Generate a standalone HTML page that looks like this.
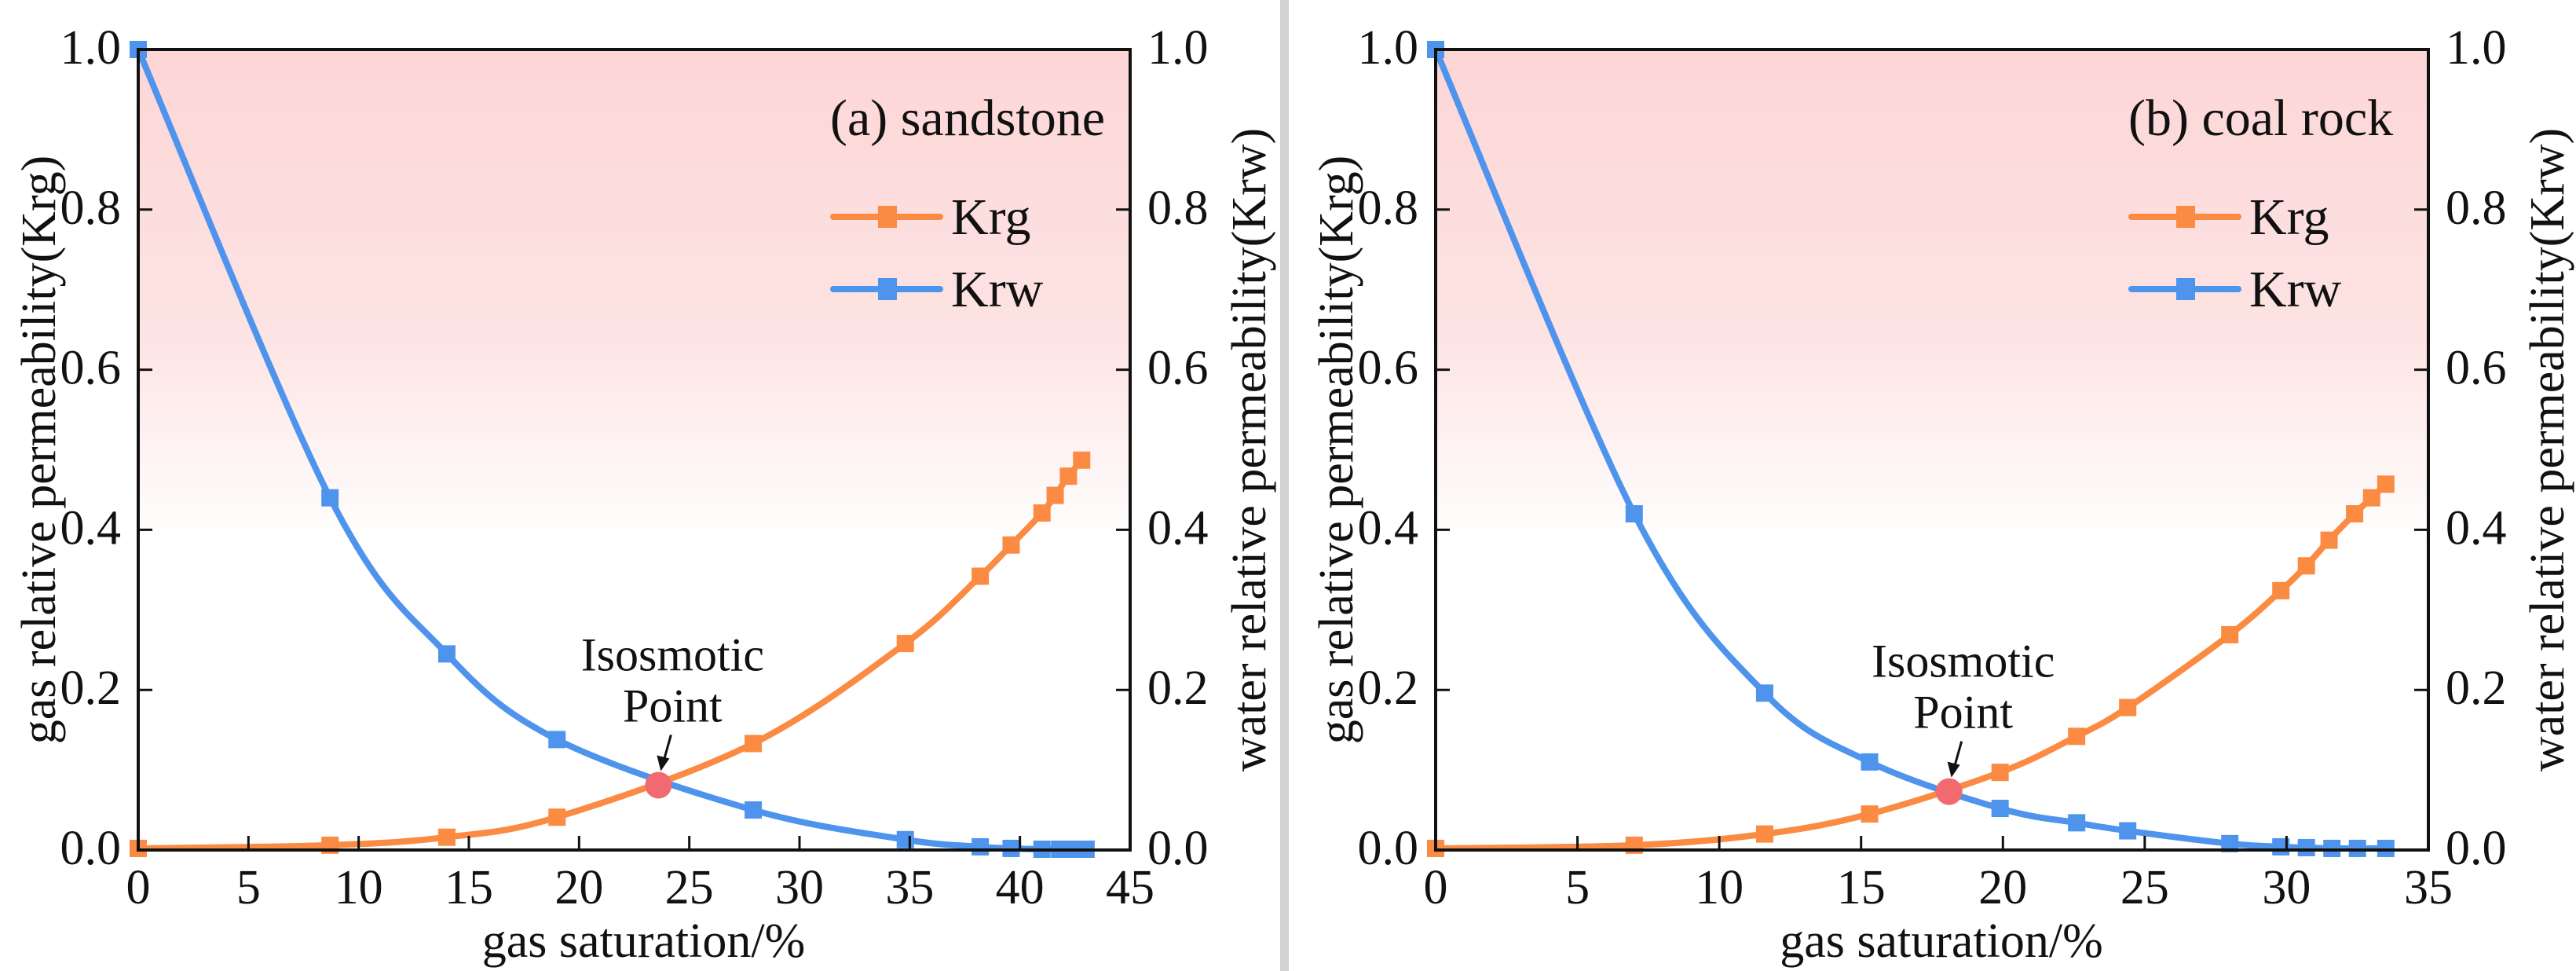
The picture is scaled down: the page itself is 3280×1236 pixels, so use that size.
<!DOCTYPE html>
<html><head><meta charset="utf-8"><style>
html,body{margin:0;padding:0;background:#fff;}
svg{display:block;}
text{font-family:"Liberation Serif","Times New Roman",Times,"DejaVu Serif","Noto Serif CJK SC",serif !important;}
</style></head><body>
<svg id="fig" width="3280" height="1236" viewBox="0 0 3280 1236" xmlns="http://www.w3.org/2000/svg">
<defs>
<linearGradient id="bg" x1="0" y1="0" x2="0" y2="1">
<stop offset="0" stop-color="#fdd6d6"/>
<stop offset="0.35" stop-color="#fde3e3"/>
<stop offset="0.62" stop-color="#ffffff"/>
<stop offset="1" stop-color="#ffffff"/>
</linearGradient>
</defs>
<rect x="1630" y="0" width="11" height="1236" fill="#d2d2d2"/>
</svg>
<script>
// Panel (a) sandstone
const sandX = [0, 8.7, 14, 19, 27.9, 34.8, 38.2, 39.6, 41, 41.6, 42.2, 42.8];
const sandKrg = [0.002, 0.006, 0.016, 0.041, 0.133, 0.258, 0.342, 0.381, 0.421, 0.443, 0.467, 0.487];
const sandKrwX = [0, 8.7, 14, 19, 27.9, 34.8, 38.2, 39.6, 41, 41.8, 42.3, 43];
const sandKrw = [1.0, 0.44, 0.245, 0.138, 0.05, 0.013, 0.004, 0.002, 0.001, 0.001, 0.001, 0.001];
const sandIso = [23.6, 0.081];
const sandXTicks = [0, 5, 10, 15, 20, 25, 30, 35, 40, 45];
// Panel (b) coal rock
const coalX = [0, 7, 11.6, 15.3, 19.9, 22.6, 24.4, 28, 29.8, 30.7, 31.5, 32.4, 33, 33.5];
const coalKrg = [0.002, 0.006, 0.02, 0.045, 0.097, 0.142, 0.178, 0.269, 0.324, 0.355, 0.387, 0.42, 0.44, 0.457];
const coalKrwX = [0, 7, 11.6, 15.3, 19.9, 22.6, 24.4, 28, 29.8, 30.7, 31.6, 32.5, 33.5];
const coalKrw = [1.0, 0.42, 0.196, 0.11, 0.052, 0.034, 0.024, 0.008, 0.004, 0.003, 0.002, 0.002, 0.002];
const coalIso = [18.1, 0.073];
const coalXTicks = [0, 5, 10, 15, 20, 25, 30, 35];
const yTicks = [0.0, 0.2, 0.4, 0.6, 0.8, 1.0];

const NS = "http://www.w3.org/2000/svg";
const svg = document.getElementById('fig');
const ORANGE = "#fb8b42", BLUE = "#4f94ec";
function mk(tag, attrs, parent) {
  const e = document.createElementNS(NS, tag);
  for (const k in attrs) e.setAttribute(k, attrs[k]);
  if (tag === 'text') e.setAttribute('font-family', 'Liberation Serif, Times New Roman, serif');
  (parent || svg).appendChild(e);
  return e;
}
function smoothPath(pts) {
  let d = "M" + pts[0][0] + "," + pts[0][1];
  for (let i = 0; i < pts.length - 1; i++) {
    const p0 = pts[Math.max(0, i - 1)], p1 = pts[i], p2 = pts[i + 1], p3 = pts[Math.min(pts.length - 1, i + 2)];
    const c1x = p1[0] + (p2[0] - p0[0]) / 6, c1y = p1[1] + (p2[1] - p0[1]) / 6;
    const c2x = p2[0] - (p3[0] - p1[0]) / 6, c2y = p2[1] - (p3[1] - p1[1]) / 6;
    d += " C" + c1x + "," + c1y + " " + c2x + "," + c2y + " " + p2[0] + "," + p2[1];
  }
  return d;
}
function panel(cfg) {
  const L = cfg.left, R = cfg.right, T = 63, B = 1082;
  const xs = v => L + (v / cfg.xmax) * (R - L);
  const ys = v => B - v * (B - T);
  const g = mk('g', {});
  
  
  const bg = mk('rect', {x: L, y: T, width: R - L, height: B - T, fill: 'url(#bg)'}, g);
  
  
  const series = [
    {xv: cfg.krwX, yv: cfg.krw, color: BLUE, name: 'krw'},
    {xv: cfg.krgX, yv: cfg.krg, color: ORANGE, name: 'krg'}
  ];
  for (const s of series) {
    const pts = s.xv.map((x, i) => [xs(x), ys(s.yv[i])]);
    const p = mk('path', {d: smoothPath(pts), fill: 'none', stroke: s.color, 'stroke-width': 8, 'stroke-linejoin': 'round'}, g);
    
    
    for (let i = 0; i < pts.length; i++) {
      const m = mk('rect', {x: pts[i][0] - 11, y: pts[i][1] - 11, width: 22, height: 22, fill: s.color}, g);
      
      
    }
  }
  const fr = mk('rect', {x: L, y: T, width: R - L, height: B - T, fill: 'none', stroke: '#111', 'stroke-width': 4}, g);
  
  
  for (const t of cfg.xticks) {
    const x = xs(t);
    const tk = mk('line', {x1: x, y1: B, x2: x, y2: B - 18, stroke: '#111', 'stroke-width': 3}, g);
    
    
    const tl = mk('text', {x: x, y: 1150, 'font-size': 62, 'text-anchor': 'middle', fill: '#111'}, g);
    tl.textContent = String(t);
    
    
  }
  for (const t of yTicks) {
    const y = ys(t);
    if (t > 0 && t < 1) {
      const a = mk('line', {x1: L, y1: y, x2: L + 18, y2: y, stroke: '#111', 'stroke-width': 3}, g);
      
      
      const b = mk('line', {x1: R, y1: y, x2: R - 18, y2: y, stroke: '#111', 'stroke-width': 3}, g);
      
      
    }
    const l1 = mk('text', {x: L - 22, y: y + 18, 'font-size': 62, 'text-anchor': 'end', fill: '#111'}, g);
    l1.textContent = t.toFixed(1);
    
    
    const l2 = mk('text', {x: R + 22, y: y + 18, 'font-size': 62, 'text-anchor': 'start', fill: '#111'}, g);
    l2.textContent = t.toFixed(1);
    
    
  }
  const xt = mk('text', {x: (L + R) / 2 + 12, y: 1218, 'font-size': 62, 'text-anchor': 'middle', fill: '#111'}, g);
  xt.textContent = 'gas saturation/%';
  
  
  const cy = (T + B) / 2;
  const yl = mk('text', {x: 0, y: 0, 'font-size': 62, 'text-anchor': 'middle', fill: '#111', transform: 'translate(' + (L - 106) + ',' + cy + ') rotate(-90)'}, g);
  yl.textContent = 'gas relative permeability(Krg)';
  
  
  const yr = mk('text', {x: 0, y: 0, 'font-size': 62, 'text-anchor': 'middle', fill: '#111', transform: 'translate(' + (R + 172) + ',' + cy + ') rotate(-90)'}, g);
  yr.textContent = 'water relative permeability(Krw)';
  
  
  const ti = mk('text', {x: R - 382, y: 172, 'font-size': 66, fill: '#111'}, g);
  ti.textContent = cfg.title;
  
  
  const leg = [['Krg', ORANGE, 276], ['Krw', BLUE, 368]];
  for (const [lab, col, ly] of leg) {
    const ln = mk('line', {x1: R - 378, y1: ly, x2: R - 242, y2: ly, stroke: col, 'stroke-width': 8, 'stroke-linecap': 'round'}, g);
    
    
    const sq = mk('rect', {x: R - 321, y: ly - 14, width: 24, height: 28, fill: col}, g);
    
    
    const lt = mk('text', {x: R - 228, y: ly + 22, 'font-size': 66, fill: '#111'}, g);
    lt.textContent = lab;
    
    
  }
  const ix = xs(cfg.iso[0]), iy = ys(cfg.iso[1]);
  const c = mk('circle', {cx: ix, cy: iy, r: 17, fill: '#f06a70'}, g);
  
  
  const a1 = mk('text', {x: ix + 18, y: iy - 146, 'font-size': 60, 'text-anchor': 'middle', fill: '#111'}, g);
  a1.textContent = 'Isosmotic';
  
  
  const a2 = mk('text', {x: ix + 18, y: iy - 81, 'font-size': 60, 'text-anchor': 'middle', fill: '#111'}, g);
  a2.textContent = 'Point';
  
  
  const ar = mk('line', {x1: ix + 16, y1: iy - 64, x2: ix + 7, y2: iy - 32, stroke: '#111', 'stroke-width': 3}, g);
  
  
  const ah = mk('polygon', {points: (ix + 3) + ',' + (iy - 18) + ' ' + (ix - 2) + ',' + (iy - 38) + ' ' + (ix + 14) + ',' + (iy - 34), fill: '#111'}, g);
  
  
}
panel({name: 'panel-a-sandstone', left: 176, right: 1439, xmax: 45, xticks: sandXTicks, krgX: sandX, krg: sandKrg, krwX: sandKrwX, krw: sandKrw, iso: sandIso, title: '(a) sandstone'});
panel({name: 'panel-b-coal-rock', left: 1828, right: 3092, xmax: 35, xticks: coalXTicks, krgX: coalX, krg: coalKrg, krwX: coalKrwX, krw: coalKrw, iso: coalIso, title: '(b) coal rock'});
</script>
</body></html>
